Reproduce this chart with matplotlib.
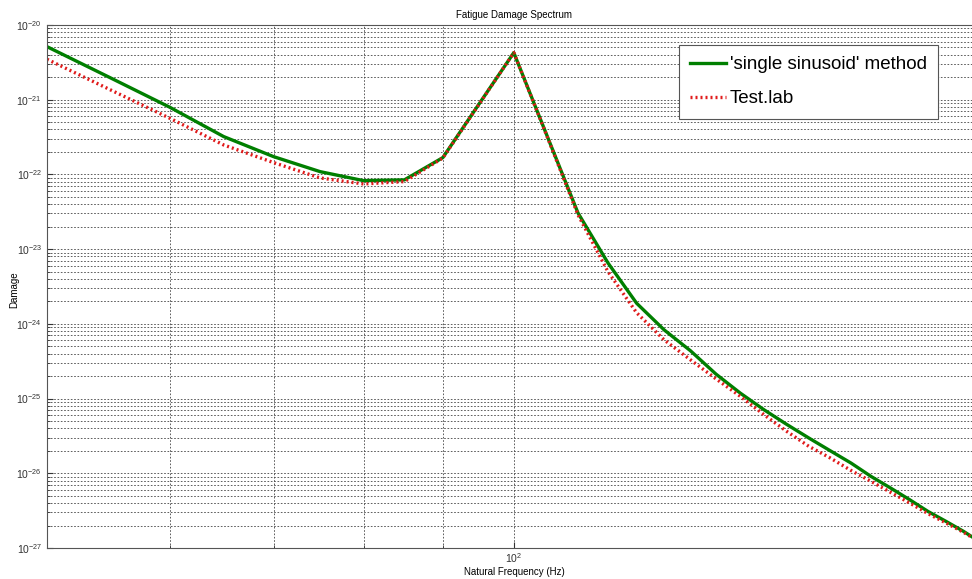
import numpy as np
import matplotlib
matplotlib.use("Agg")
import matplotlib.pyplot as plt
from matplotlib.ticker import FixedLocator, NullFormatter

plt.rcParams["font.family"] = ["Liberation Sans", "DejaVu Sans"]

freq = [50, 55, 60, 65, 70, 75, 80, 85, 90, 95, 100, 105, 110, 115, 120, 125,
        130, 135, 140, 145, 150, 155, 160, 165, 170, 175, 180, 185, 190, 195, 200]

damage_sine = [5.13e-21, 1.94e-21, 7.93e-22, 3.21e-22, 1.73e-22, 1.09e-22,
               8.26e-23, 8.45e-23, 1.68e-22, 8.85e-22, 4.26e-21, 3.39e-22,
               3.05e-23, 6.55e-24, 1.89e-24, 8.32e-25, 4.36e-25, 2.13e-25,
               1.18e-25, 7.08e-26, 4.50e-26, 2.96e-26, 2.00e-26, 1.37e-26,
               9.06e-27, 6.34e-27, 4.43e-27, 3.08e-27, 2.27e-27, 1.67e-27,
               1.19e-27]

damage_testlab = [3.48e-21, 1.34e-21, 5.65e-22, 2.48e-22, 1.44e-22, 8.97e-23,
                  7.46e-23, 8.02e-23, 1.66e-22, 8.77e-22, 4.26e-21, 3.33e-22,
                  2.88e-23, 5.01e-24, 1.41e-24, 6.11e-25, 3.30e-25, 1.84e-25,
                  1.07e-25, 6.07e-26, 3.63e-26, 2.29e-26, 1.60e-26, 1.09e-26,
                  7.78e-27, 5.55e-27, 4.00e-27, 2.88e-27, 2.16e-27, 1.62e-27,
                  1.18e-27]

decades = np.arange(-27, -19)
y_major = [10.0 ** d for d in decades]
y_minor = [m * 10.0 ** d for d in decades[:-1] for m in range(2, 10)]

fig = plt.figure(figsize=(9.72, 5.79), dpi=100)
ax = fig.add_axes([47 / 972, 1 - 548 / 579, (980.6 - 47) / 972, 523 / 579])

ax.set_xscale("log")
ax.set_yscale("log")
ax.set_xlim(50, 200)
ax.set_ylim(1e-27, 1e-20)

# dotted MATLAB-style grid
grid_kw = dict(color="#444444", linestyle=(0, (2, 2)), linewidth=0.6)
ax.yaxis.set_major_locator(FixedLocator(y_major))
ax.yaxis.set_minor_locator(FixedLocator(y_minor))
ax.yaxis.set_minor_formatter(NullFormatter())
ax.xaxis.set_major_locator(FixedLocator([100]))
ax.xaxis.set_minor_locator(FixedLocator([60, 70, 80, 90]))
ax.xaxis.set_minor_formatter(NullFormatter())
ax.grid(True, which="both", axis="both", **grid_kw)
ax.set_axisbelow(True)

ax.plot(freq, damage_sine, color="#007f00", linewidth=2.4,
        label="'single sinusoid' method")
ax.plot(freq, damage_testlab, color="#e01b1b", linewidth=2.4,
        linestyle=(0, (0.6, 0.9)), label="Test.lab")

for s in ax.spines.values():
    s.set_color("#555555")
    s.set_linewidth(0.8)

ax.tick_params(which="both", direction="in", labelsize=7.5, colors="#333333",
               top=False, right=False)
ax.tick_params(which="major", length=4)
ax.tick_params(which="minor", length=2)
ax.tick_params(axis="x", pad=2)

ax.set_title("Fatigue Damage Spectrum", fontsize=7, pad=5)
ax.set_xlabel("Natural Frequency (Hz)", fontsize=7)
ax.set_ylabel("Damage", fontsize=7)
ax.xaxis.set_label_coords(514 / 972, 1 - 567 / 579, transform=fig.transFigure)
ax.yaxis.set_label_coords(19 / 972, 0.5, transform=fig.transFigure)

leg = ax.legend(loc="upper right", bbox_to_anchor=(938 / 972, 1 - 45 / 579),
                bbox_transform=fig.transFigure, fontsize=13.5, fancybox=False,
                framealpha=1, edgecolor="#555555", handlelength=1.9,
                handletextpad=0.2, labelspacing=0.9, borderpad=0.6,
                borderaxespad=0)
leg.get_frame().set_linewidth(0.8)

fig.savefig("out.png", dpi=100)
